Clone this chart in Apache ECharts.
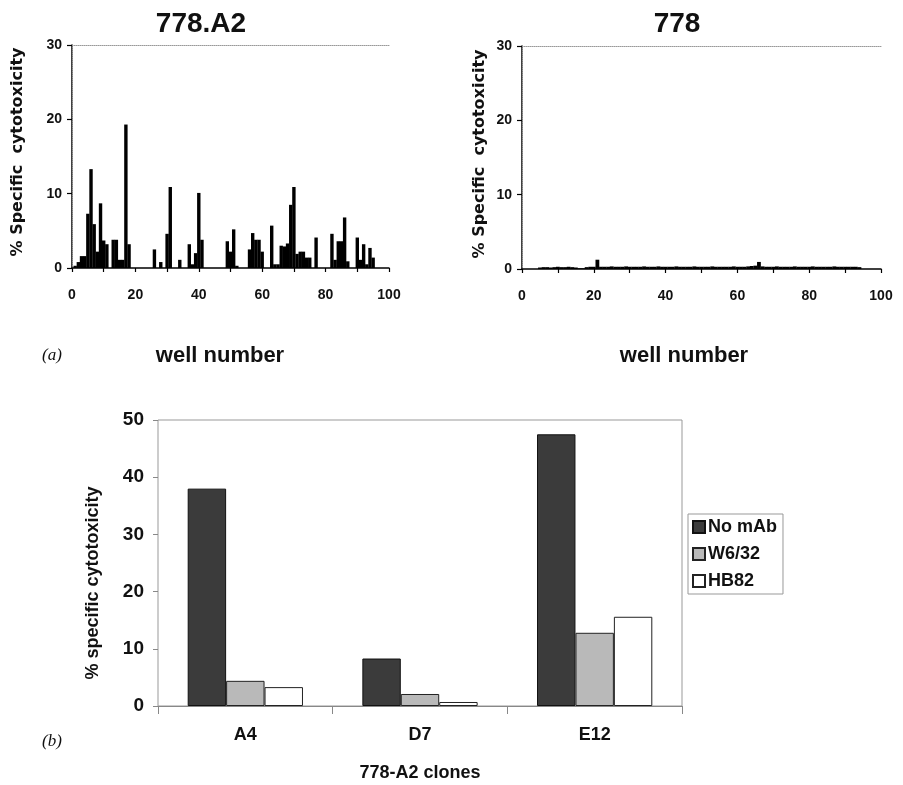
<!DOCTYPE html>
<html>
<head>
<meta charset="utf-8">
<script src="https://cdn.jsdelivr.net/npm/echarts@6/dist/echarts.min.js"></script>
<style>
  html, body { margin: 0; padding: 0; background: #fff; }
  #chart { width: 903px; height: 785px; }
</style>
</head>
<body>
<div id="chart"></div>
<script>
// Well numbers on the 96-well plate
const wells = [
  1, 2, 3, 4, 5, 6, 7, 8, 9, 10, 11, 12, 13, 14, 15, 16,
  17, 18, 19, 20, 21, 22, 23, 24, 25, 26, 27, 28, 29, 30, 31, 32,
  33, 34, 35, 36, 37, 38, 39, 40, 41, 42, 43, 44, 45, 46, 47, 48,
  49, 50, 51, 52, 53, 54, 55, 56, 57, 58, 59, 60, 61, 62, 63, 64,
  65, 66, 67, 68, 69, 70, 71, 72, 73, 74, 75, 76, 77, 78, 79, 80,
  81, 82, 83, 84, 85, 86, 87, 88, 89, 90, 91, 92, 93, 94, 95, 96
];

// % specific cytotoxicity per well, 778.A2 effectors
const cytoA2 = [
  0.3, 0.8, 1.6, 1.6, 7.3, 13.3, 5.9, 2.2, 8.7, 3.7, 3.2, 0, 3.8, 3.8, 1.1, 1.1,
  19.3, 3.2, 0, 0, 0, 0, 0, 0, 0, 2.5, 0, 0.8, 0, 4.6, 10.9, 0,
  0, 1.1, 0, 0, 3.2, 0.5, 2.0, 10.1, 3.8, 0, 0, 0, 0, 0, 0, 0,
  3.6, 2.2, 5.2, 0.3, 0, 0, 0, 2.5, 4.7, 3.8, 3.8, 2.2, 0, 0, 5.7, 0.5,
  0.5, 3.0, 2.9, 3.3, 8.5, 10.9, 1.9, 2.2, 2.2, 1.4, 1.4, 0, 4.1, 0, 0, 0,
  0, 4.6, 1.1, 3.6, 3.6, 6.8, 0.9, 0, 0, 4.1, 1.1, 3.2, 0.5, 2.7, 1.4, 0
];

// % specific cytotoxicity per well, 778 effectors
const cyto778 = [
  0, 0, 0, 0, 0.2, 0.25, 0.25, 0.2, 0.25, 0.3, 0.25, 0.25, 0.3, 0.25, 0.2, 0.1,
  0.1, 0.25, 0.3, 0.3, 1.25, 0.3, 0.3, 0.3, 0.35, 0.3, 0.3, 0.3, 0.35, 0.3, 0.3, 0.3,
  0.3, 0.35, 0.3, 0.3, 0.3, 0.35, 0.3, 0.3, 0.3, 0.3, 0.35, 0.3, 0.3, 0.3, 0.3, 0.35,
  0.3, 0.3, 0.3, 0.3, 0.35, 0.3, 0.3, 0.3, 0.3, 0.3, 0.35, 0.3, 0.3, 0.3, 0.35, 0.4,
  0.45, 0.95, 0.35, 0.3, 0.3, 0.3, 0.35, 0.3, 0.3, 0.3, 0.3, 0.35, 0.3, 0.3, 0.3, 0.3,
  0.35, 0.3, 0.3, 0.3, 0.3, 0.3, 0.35, 0.3, 0.3, 0.3, 0.3, 0.3, 0.3, 0.25, 0, 0
];

// Panel (b): clones and antibody treatments
const clones = ['A4', 'D7', 'E12'];
const treatments = ['No mAb', 'W6/32', 'HB82'];
const noMab = [38.0, 8.3, 47.5];
const w632 = [4.4, 2.1, 12.8];
const hb82 = [3.3, 0.7, 15.6];

const titles = ['778.A2', '778'];
const yNameTop = '% Specific  cytotoxicity';
const yNameBottom = '% specific cytotoxicity';
const xNameTop = 'well number';
const xNameBottom = '778-A2 clones';

const chart = echarts.init(document.getElementById('chart'), null, { renderer: 'canvas' });

const sansBold = { fontFamily: 'Liberation Sans, Arial, sans-serif', fontWeight: 'bold', color: '#111' };
const wideBold = { fontFamily: 'DejaVu Sans, sans-serif', fontWeight: 'bold', color: '#111' };

function wellXAxis(grid) {
  return {
    gridIndex: grid, type: 'value', min: 0, max: 100, interval: 10,
    axisLine: { show: true, onZero: false, lineStyle: { color: '#000', width: 1.5 } },
    axisTick: { show: true, length: 4, lineStyle: { color: '#000', width: 1.2 } },
    axisLabel: {
      margin: 20, fontSize: 14, ...sansBold,
      formatter: v => (v % 20 === 0 ? String(v) : '')
    },
    splitLine: { show: false }
  };
}
function frameXAxis(grid) {
  return {
    gridIndex: grid, type: 'value', min: 0, max: 100, position: 'top',
    axisLine: { show: true, onZero: false, lineStyle: { color: '#999', width: 1, type: 'dotted' } },
    axisTick: { show: false }, axisLabel: { show: false }, splitLine: { show: false }
  };
}
function cytoYAxis(grid) {
  return {
    gridIndex: grid, type: 'value', min: 0, max: 30, interval: 10,
    axisLine: { show: true, lineStyle: { color: '#000', width: 1.5 } },
    axisTick: { show: true, length: 5, lineStyle: { color: '#000', width: 1.2 } },
    axisLabel: { margin: 10, fontSize: 14, ...sansBold },
    splitLine: { show: false }
  };
}
function frameYAxis(grid) {
  return {
    gridIndex: grid, type: 'value', min: 0, max: 30, position: 'right',
    axisLine: { show: true, lineStyle: { color: '#999', width: 1, type: 'dotted' } },
    axisTick: { show: false }, axisLabel: { show: false }, splitLine: { show: false }
  };
}

const option = {
  backgroundColor: '#fff',
  animation: false,
  title: [
    { text: titles[0], left: 196, top: 5, textAlign: 'center',
      textStyle: { fontSize: 28, ...sansBold } },
    { text: titles[1], left: 672, top: 5, textAlign: 'center',
      textStyle: { fontSize: 28, ...sansBold } }
  ],
  grid: [
    { left: 72, top: 45, width: 317, height: 223 },
    { left: 522, top: 46, width: 359, height: 223 },
    { left: 158, top: 420, width: 524, height: 286, show: true,
      borderColor: '#999', borderWidth: 1, backgroundColor: 'transparent' }
  ],
  xAxis: [
    wellXAxis(0), frameXAxis(0),
    wellXAxis(1), frameXAxis(1),
    {
      gridIndex: 2, type: 'category', data: clones,
      axisLine: { show: true, lineStyle: { color: '#888', width: 1 } },
      axisTick: { show: true, length: 8, alignWithLabel: false, lineStyle: { color: '#888' } },
      axisLabel: { margin: 20, fontSize: 18, ...sansBold },
      name: xNameBottom, nameLocation: 'middle', nameGap: 58,
      nameTextStyle: { fontSize: 18, ...sansBold }
    }
  ],
  yAxis: [
    cytoYAxis(0), frameYAxis(0),
    cytoYAxis(1), frameYAxis(1),
    {
      gridIndex: 2, type: 'value', min: 0, max: 50, interval: 10,
      axisLine: { show: false },
      axisTick: { show: true, length: 5, lineStyle: { color: '#888' } },
      axisLabel: { margin: 14, fontSize: 19, ...sansBold },
      splitLine: { show: false }
    }
  ],
  legend: {
    data: treatments, orient: 'vertical', left: 688, top: 514,
    itemWidth: 12, itemHeight: 12, itemGap: 9, icon: 'rect',
    padding: [4, 6, 4, 4],
    borderColor: '#999', borderWidth: 1, backgroundColor: '#fff',
    textStyle: { fontSize: 18, ...sansBold, padding: [0, 0, 0, -2] }
  },
  series: [
    {
      type: 'bar', xAxisIndex: 0, yAxisIndex: 0, barWidth: 3.4,
      itemStyle: { color: '#000' },
      data: wells.map((w, i) => [w, cytoA2[i]])
    },
    {
      type: 'bar', xAxisIndex: 2, yAxisIndex: 2, barWidth: 3.8,
      itemStyle: { color: '#000' },
      data: wells.map((w, i) => [w, cyto778[i]])
    },
    {
      name: treatments[0], type: 'bar', xAxisIndex: 4, yAxisIndex: 4,
      barCategoryGap: '34%', barGap: '0%',
      itemStyle: { color: '#3b3b3b', borderColor: '#111', borderWidth: 1 },
      data: noMab
    },
    {
      name: treatments[1], type: 'bar', xAxisIndex: 4, yAxisIndex: 4,
      barCategoryGap: '34%', barGap: '0%',
      itemStyle: { color: '#b9b9b9', borderColor: '#222', borderWidth: 1 },
      data: w632
    },
    {
      name: treatments[2], type: 'bar', xAxisIndex: 4, yAxisIndex: 4,
      barCategoryGap: '34%', barGap: '0%',
      itemStyle: { color: '#ffffff', borderColor: '#222', borderWidth: 1 },
      data: hb82
    }
  ],
  graphic: [
    { type: 'text', x: 18, y: 152, rotation: Math.PI / 2,
      style: { text: yNameTop, fontSize: 16, ...wideBold, fill: '#111',
               align: 'center', verticalAlign: 'middle' } },
    { type: 'text', x: 480, y: 154, rotation: Math.PI / 2,
      style: { text: yNameTop, fontSize: 16, ...wideBold, fill: '#111',
               align: 'center', verticalAlign: 'middle' } },
    { type: 'text', x: 220, y: 356,
      style: { text: xNameTop, fontSize: 22, ...sansBold, fill: '#111',
               align: 'center', verticalAlign: 'middle' } },
    { type: 'text', x: 684, y: 356,
      style: { text: xNameTop, fontSize: 22, ...sansBold, fill: '#111',
               align: 'center', verticalAlign: 'middle' } },
    { type: 'text', x: 42, y: 356,
      style: { text: '(a)', fontSize: 17, fontFamily: 'Liberation Serif, serif', fontStyle: 'italic',
               fill: '#111', align: 'left', verticalAlign: 'middle' } },
    { type: 'text', x: 42, y: 742,
      style: { text: '(b)', fontSize: 17, fontFamily: 'Liberation Serif, serif', fontStyle: 'italic',
               fill: '#111', align: 'left', verticalAlign: 'middle' } },
    { type: 'text', x: 93, y: 583, rotation: Math.PI / 2,
      style: { text: yNameBottom, fontSize: 18, ...sansBold, fill: '#111',
               align: 'center', verticalAlign: 'middle' } }
  ]
};

chart.setOption(option);
</script>
</body>
</html>
